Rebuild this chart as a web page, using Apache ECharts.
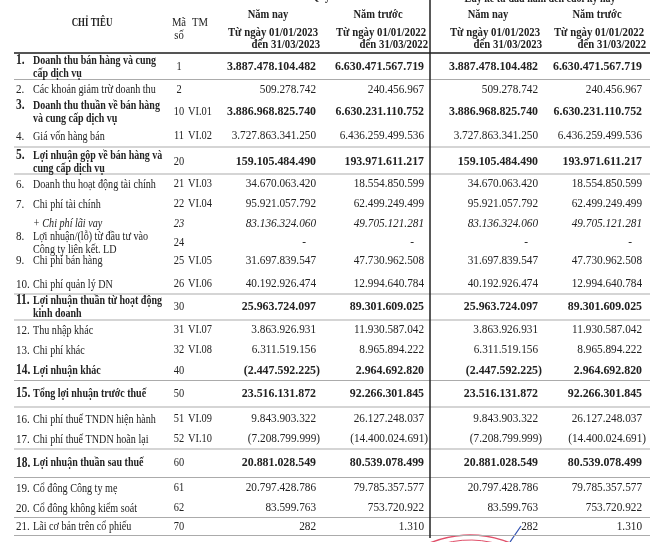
<!DOCTYPE html>
<html><head><meta charset="utf-8">
<script src="https://cdn.jsdelivr.net/npm/echarts@6/dist/echarts.min.js"></script>
<style>html,body{margin:0;padding:0;background:#fff}#c{width:650px;height:542px}</style>
</head><body><div id="c"></div>
<script>
// ---------- DATA ----------
const rowNums = ["1.","2.","3.","4.","5.","6.","7.","","8.","9.","10.","11.","12.","13.","14.","15.","16.","17.","18.","19.","20.","21."];
const labels = [
  "Doanh thu bán hàng và cung\ncấp dịch vụ",
  "Các khoản giảm trừ doanh thu",
  "Doanh thu thuần về bán hàng\nvà cung cấp dịch vụ",
  "Giá vốn hàng bán",
  "Lợi nhuận gộp về bán hàng và\ncung cấp dịch vụ",
  "Doanh thu hoạt động tài chính",
  "Chi phí tài chính",
  "+ Chi phí lãi vay",
  "Lợi nhuận/(lỗ) từ đầu tư vào\nCông ty liên kết. LD",
  "Chi phí bán hàng",
  "Chi phí quản lý DN",
  "Lợi nhuận thuần từ hoạt động\nkinh doanh",
  "Thu nhập khác",
  "Chi phí khác",
  "Lợi nhuận khác",
  "Tổng lợi nhuận trước thuế",
  "Chi phí thuế TNDN hiện hành",
  "Chi phí thuế TNDN hoãn lại",
  "Lợi nhuận thuần sau thuế",
  "Cổ đông Công ty mẹ",
  "Cổ đông không kiểm soát",
  "Lãi cơ bản trên cổ phiếu"
];
const codes = ["1","2","10","11","20","21","22","23","24","25","26","30","31","32","40","50","51","52","60","61","62","70"];
const notes = ["","","VI.01","VI.02","","VI.03","VI.04","","","VI.05","VI.06","","VI.07","VI.08","","","VI.09","VI.10","","","",""];
const q1Current = [3887478104482,509278742,3886968825740,3727863341250,159105484490,34670063420,95921057792,83136324060,null,31697839547,40192926474,25963724097,3863926931,6311519156,-2447592225,23516131872,9843903322,-7208799999,20881028549,20797428786,83599763,282];
const q1Previous = [6630471567719,240456967,6630231110752,6436259499536,193971611217,18554850599,62499249499,49705121281,null,47730962508,12994640784,89301609025,11930587042,8965894222,2964692820,92266301845,26127248037,-14400024691,80539078499,79785357577,753720922,1310];
const ytdCurrent = [3887478104482,509278742,3886968825740,3727863341250,159105484490,34670063420,95921057792,83136324060,null,31697839547,40192926474,25963724097,3863926931,6311519156,-2447592225,23516131872,9843903322,-7208799999,20881028549,20797428786,83599763,282];
const ytdPrevious = [6630471567719,240456967,6630231110752,6436259499536,193971611217,18554850599,62499249499,49705121281,null,47730962508,12994640784,89301609025,11930587042,8965894222,2964692820,92266301845,26127248037,-14400024691,80539078499,79785357577,753720922,1310];
const boldRows = [0,2,4,11,14,15,18];
const italicRows = [7];
const groupTitles = ["Quý I","Lũy kế từ đầu năm đến cuối kỳ này"];
const colTitles = ["Năm nay","Năm trước","Năm nay","Năm trước"];
const periodFrom = ["Từ ngày 01/01/2023","Từ ngày 01/01/2022","Từ ngày 01/01/2023","Từ ngày 01/01/2022"];
const periodTo = ["đến 31/03/2023","đến 31/03/2022","đến 31/03/2023","đến 31/03/2022"];
const headLabel = "CHỈ TIÊU", headCode = "Mã\nsố", headNote = "TM";

// ---------- LAYOUT ----------
const rowY = [67,89.5,112,136,162,184,204,223.5,243,260.5,284,307,330,350,370.5,393.5,419,439,463,488,508,526.5];
const ruleY = [79.5,147,174,294,320,380.5,407,449,477.5,517.5,535.5];
const colRight = [316,424,538,642];
const colCenter = [268,378,488,597];
const FONT = '"Liberation Serif", "DejaVu Serif", serif';
const INK = '#222';

function fmt(v){
  if (v === null) return '-';
  const s = Math.abs(v).toString().replace(/\B(?=(\d{3})+(?!\d))/g,'.');
  return v < 0 ? '(' + s + ')' : s;
}

const chart = echarts.init(document.getElementById('c'), null, {renderer:'canvas'});
const series = [q1Current,q1Previous,ytdCurrent,ytdPrevious];

function txt(api, x, y, text, opt, sx){
  const p = api.coord([x,y]);
  return {type:'text', x:p[0], y:p[1], scaleX: sx || 1, style:Object.assign({
    text:text, fill:INK, font:'12.5px '+FONT, textAlign:'left', textVerticalAlign:'middle', lineHeight:12.5
  }, opt||{})};
}

const option = {
  animation:false,
  grid:{left:0,right:0,top:0,bottom:0},
  xAxis:{type:'value',min:0,max:650,show:false},
  yAxis:{type:'value',min:0,max:542,inverse:true,show:false},
  series:[
    { // horizontal rules
      type:'custom', silent:true,
      data: ruleY.map(v=>[v]),
      renderItem:(params,api)=>{
        const y = api.value(0);
        const a = api.coord([14,y]), b = api.coord([650,y]);
        return {type:'line', shape:{x1:a[0],y1:a[1],x2:b[0],y2:b[1]}, style:{stroke:'#ababab',lineWidth:1}};
      }
    },
    { // header
      type:'custom', silent:true,
      data:[[0]],
      renderItem:(params,api)=>{
        const ch = [];
        const hb = 'bold 12.5px '+FONT;
        ch.push(txt(api,324,-3,groupTitles[0],{font:hb,textAlign:'center'},0.84));
        ch.push(txt(api,540,-1,groupTitles[1],{font:hb,textAlign:'center'},0.8));
        ch.push(txt(api,92,23,headLabel,{font:'bold 12px '+FONT,textAlign:'center'},0.74));
        ch.push(txt(api,179,29,headCode,{font:'13px '+FONT,textAlign:'center',lineHeight:13},0.82));
        ch.push(txt(api,200,23,headNote,{font:'13px '+FONT,textAlign:'center'},0.82));
        for(let k=0;k<4;k++){
          ch.push(txt(api,colCenter[k],15,colTitles[k],{font:hb,textAlign:'center'},0.84));
          ch.push(txt(api,colRight[k]+2,33,periodFrom[k],{font:hb,textAlign:'right'},0.86));
          ch.push(txt(api,colRight[k]+4,45,periodTo[k],{font:hb,textAlign:'right'},0.86));
        }
        const a = api.coord([14,53]), b = api.coord([650,53]);
        ch.push({type:'line',shape:{x1:a[0],y1:a[1],x2:b[0],y2:b[1]},style:{stroke:'#555',lineWidth:2}});
        const c = api.coord([430,0]), d = api.coord([430,538]);
        ch.push({type:'line',shape:{x1:c[0],y1:c[1],x2:d[0],y2:d[1]},style:{stroke:'#222',lineWidth:1.5}});
        return {type:'group',children:ch};
      }
    },
    { // rows
      type:'custom', silent:true,
      data: labels.map((_,i)=>[i]),
      renderItem:(params,api)=>{
        const i = api.value(0);
        const y = rowY[i];
        const bold = boldRows.indexOf(i) >= 0;
        const ital = italicRows.indexOf(i) >= 0;
        const two = labels[i].indexOf('\n') >= 0;
        const lf = (ital?'italic ':'') + (bold?'bold 13.5px ':'13.5px ') + FONT;
        const vf = (ital?'italic ':'') + (bold?'bold 12.5px ':'12.5px ') + FONT;
        const ch = [];
        if (rowNums[i]) ch.push(txt(api,16,two?y-6.25:y,rowNums[i],{font:(bold?'bold 14px ':'13.5px ')+FONT},0.82));
        ch.push(txt(api,33,y,labels[i],{font:lf}, bold?0.74:0.75));
        ch.push(txt(api,179,y,codes[i],{font:(ital?'italic ':'')+'13px '+FONT,textAlign:'center'},0.8));
        if (notes[i]) ch.push(txt(api,188,y,notes[i],{font:'13px '+FONT},0.8));
        for(let k=0;k<4;k++){
          const v = series[k][i];
          let xr = colRight[k];
          if (v === null) xr -= 10; else if (v < 0) xr += 4;
          ch.push(txt(api,xr,y,fmt(v),{font:vf,textAlign:'right'}, bold?0.95:0.9));
        }
        return {type:'group',children:ch};
      }
    }
  ],
  graphic:[
    {type:'arc',shape:{cx:470,cy:640,r:105,startAngle:Math.PI*1.1,endAngle:Math.PI*1.75},style:{stroke:'#e0506a',lineWidth:1.5,fill:null},silent:true},
    {type:'arc',shape:{cx:470,cy:640,r:100,startAngle:Math.PI*1.1,endAngle:Math.PI*1.75},style:{stroke:'#e0506a',lineWidth:1,fill:null},silent:true},
    {type:'line',shape:{x1:521,y1:526,x2:510,y2:542},style:{stroke:'#3050b0',lineWidth:1.2},silent:true}
  ]
};
chart.setOption(option);
</script>
</body></html>
